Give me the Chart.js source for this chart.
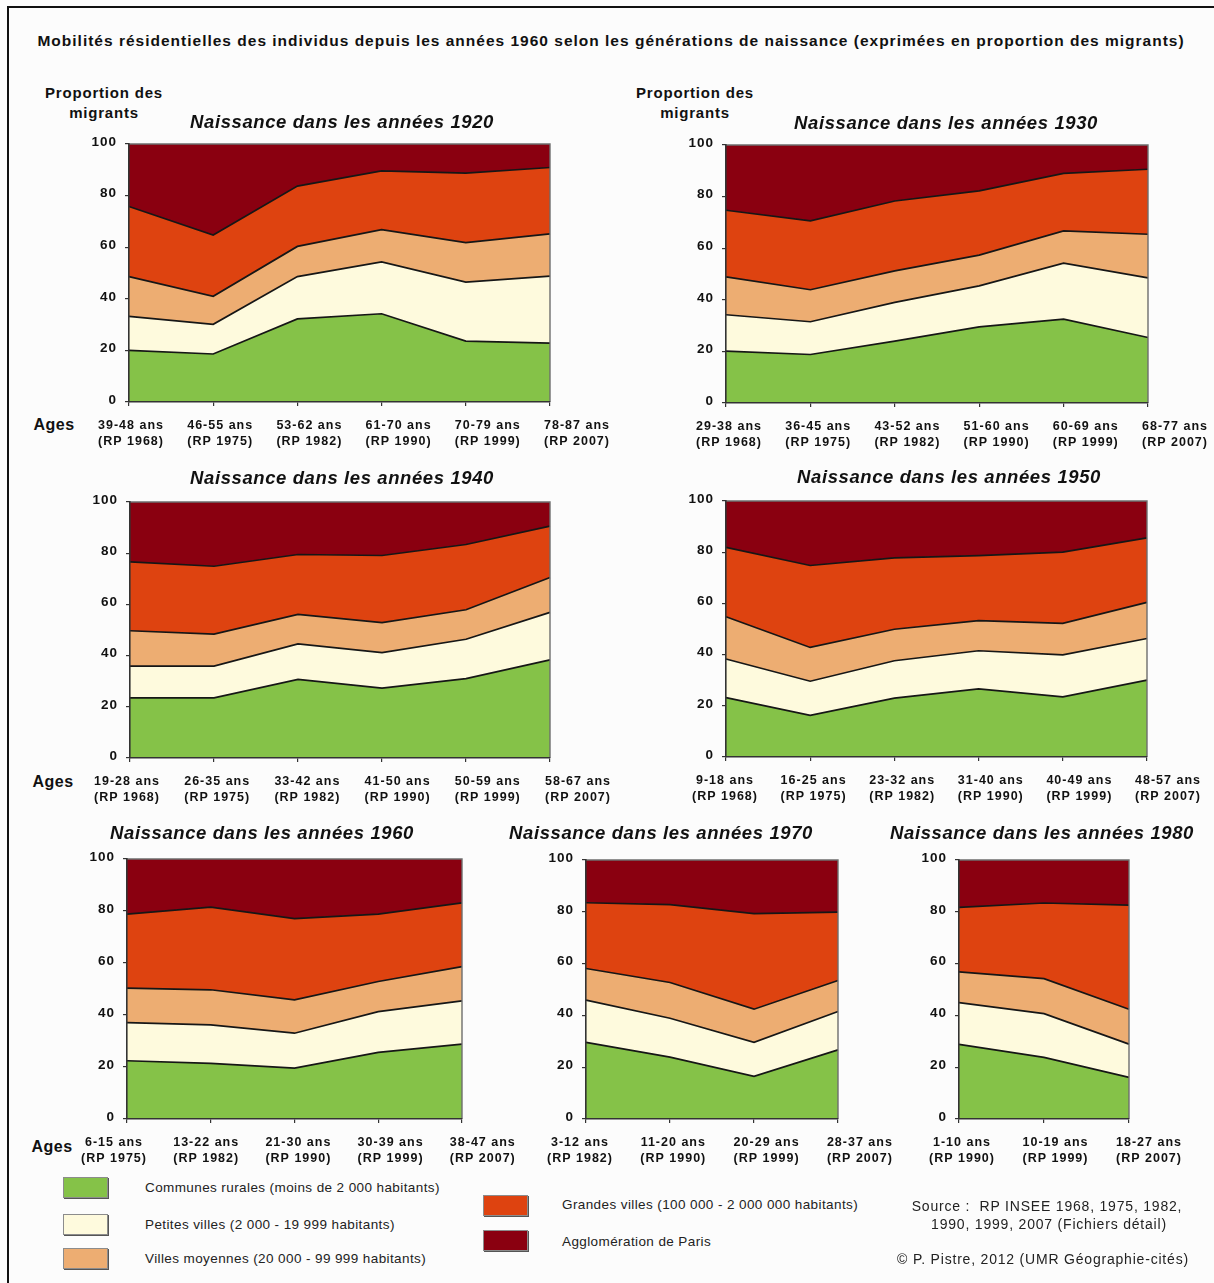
<!DOCTYPE html>
<html lang="fr">
<head>
<meta charset="utf-8">
<title>Mobilités résidentielles par génération</title>
<script src="https://cdn.jsdelivr.net/npm/chart.js@4.4.1/dist/chart.umd.min.js"></script>
<style>
  html, body { margin: 0; padding: 0; }
  body {
    width: 1214px; height: 1283px; overflow: hidden; position: relative;
    background: #fcfcfc; color: #111;
    font-family: "Liberation Sans", Arial, sans-serif;
  }
  /* only the top and left sides of the outer frame are inside the picture */
  .frame { position: absolute; left: 7px; top: 6px; width: 1300px; height: 1400px; border-top: 2px solid #111; border-left: 2px solid #111; }
  .t { position: absolute; white-space: pre; line-height: 1; }
  .sw { position: absolute; width: 43px; height: 19px; border: 1px solid #8c8c8c; box-shadow: 1px 1px 0 #555; }
  canvas { position: absolute; }
</style>
</head>
<body>
<div class="frame"></div>
<script>
// --- values (% of migrants living in each type of place) ---
const seriesNames = [
  'Communes rurales (moins de 2 000 habitants)',
  'Petites villes (2 000 - 19 999 habitants)',
  'Villes moyennes (20 000 - 99 999 habitants)',
  'Grandes villes (100 000 - 2 000 000 habitants)',
  'Agglomération de Paris',
];
const census = ['(RP 1968)', '(RP 1975)', '(RP 1982)', '(RP 1990)', '(RP 1999)', '(RP 2007)'];
const yTicks = [0, 20, 40, 60, 80, 100];

const ages1920 = ['39-48 ans', '46-55 ans', '53-62 ans', '61-70 ans', '70-79 ans', '78-87 ans'];
const rural1920 = [20.0, 18.6, 32.2, 34.2, 23.6, 22.8];
const petites1920 = [13.2, 11.5, 16.4, 20.1, 22.9, 26.0];
const moyennes1920 = [15.4, 10.9, 11.7, 12.5, 15.3, 16.4];
const grandes1920 = [27.2, 23.7, 23.4, 22.8, 26.9, 25.7];
const paris1920 = [24.2, 35.3, 16.3, 10.4, 11.3, 9.1];

const ages1930 = ['29-38 ans', '36-45 ans', '43-52 ans', '51-60 ans', '60-69 ans', '68-77 ans'];
const rural1930 = [20.1, 18.8, 24.0, 29.5, 32.5, 25.4];
const petites1930 = [14.1, 12.7, 15.0, 15.9, 21.7, 23.1];
const moyennes1930 = [14.7, 12.4, 12.2, 11.9, 12.5, 16.9];
const grandes1930 = [25.8, 26.7, 27.1, 24.9, 22.3, 25.2];
const paris1930 = [25.3, 29.4, 21.7, 17.8, 11.0, 9.4];

const ages1940 = ['19-28 ans', '26-35 ans', '33-42 ans', '41-50 ans', '50-59 ans', '58-67 ans'];
const rural1940 = [23.5, 23.5, 30.7, 27.3, 31.0, 38.3];
const petites1940 = [12.4, 12.4, 13.9, 13.9, 15.4, 18.6];
const moyennes1940 = [13.8, 12.5, 11.5, 11.7, 11.5, 13.6];
const grandes1940 = [26.9, 26.5, 23.4, 26.2, 25.5, 20.1];
const paris1940 = [23.4, 25.1, 20.5, 20.9, 16.6, 9.4];

const ages1950 = ['9-18 ans', '16-25 ans', '23-32 ans', '31-40 ans', '40-49 ans', '48-57 ans'];
const rural1950 = [23.2, 16.3, 23.0, 26.6, 23.5, 30.0];
const petites1950 = [15.1, 13.3, 14.6, 14.9, 16.4, 16.3];
const moyennes1950 = [16.5, 13.2, 12.3, 11.8, 12.3, 14.1];
const grandes1950 = [27.1, 32.0, 27.9, 25.4, 27.8, 25.2];
const paris1950 = [18.1, 25.2, 22.2, 21.3, 20.0, 14.4];

const ages1960 = ['6-15 ans', '13-22 ans', '21-30 ans', '30-39 ans', '38-47 ans'];
const rural1960 = [22.4, 21.4, 19.6, 25.6, 28.8];
const petites1960 = [14.7, 14.8, 13.4, 15.7, 16.6];
const moyennes1960 = [13.2, 13.5, 12.8, 11.6, 13.2];
const grandes1960 = [28.5, 31.8, 31.3, 25.9, 24.5];
const paris1960 = [21.2, 18.5, 22.9, 21.2, 16.9];

const ages1970 = ['3-12 ans', '11-20 ans', '20-29 ans', '28-37 ans'];
const rural1970 = [29.6, 23.9, 16.5, 26.7];
const petites1970 = [16.3, 15.0, 13.1, 14.8];
const moyennes1970 = [12.2, 13.8, 12.8, 12.0];
const grandes1970 = [25.4, 30.1, 36.9, 26.4];
const paris1970 = [16.5, 17.2, 20.7, 20.1];

const ages1980 = ['1-10 ans', '10-19 ans', '18-27 ans'];
const rural1980 = [28.8, 23.8, 16.1];
const petites1980 = [16.1, 16.9, 12.8];
const moyennes1980 = [11.9, 13.5, 13.5];
const grandes1980 = [24.9, 29.2, 40.2];
const paris1980 = [18.3, 16.6, 17.4];

// --- look ---
const fills = ['#85c248', '#fefadd', '#edad72', '#de4310', '#8a0010'];
const FONT = '"Liberation Sans", Arial, sans-serif';
Chart.defaults.font.family = FONT;
Chart.defaults.color = '#111';

// plot-area geometry of each panel, in page pixels
const panels = [
  { title: 'Naissance dans les années 1920', ages: ages1920, rp: census,
    series: [rural1920, petites1920, moyennes1920, grandes1920, paris1920],
    left: 129, top: 144, width: 421, height: 258, labelFirst: 131, labelStep: 89.2, tx: 342, ty: 122 },
  { title: 'Naissance dans les années 1930', ages: ages1930, rp: census,
    series: [rural1930, petites1930, moyennes1930, grandes1930, paris1930],
    left: 726, top: 145, width: 422, height: 258, labelFirst: 729, labelStep: 89.2, tx: 946, ty: 123 },
  { title: 'Naissance dans les années 1940', ages: ages1940, rp: census,
    series: [rural1940, petites1940, moyennes1940, grandes1940, paris1940],
    left: 130, top: 502, width: 420, height: 256, labelFirst: 127, labelStep: 90.2, tx: 342, ty: 478 },
  { title: 'Naissance dans les années 1950', ages: ages1950, rp: census,
    series: [rural1950, petites1950, moyennes1950, grandes1950, paris1950],
    left: 726, top: 501, width: 421, height: 256, labelFirst: 725, labelStep: 88.6, tx: 949, ty: 477 },
  { title: 'Naissance dans les années 1960', ages: ages1960, rp: census.slice(1),
    series: [rural1960, petites1960, moyennes1960, grandes1960, paris1960],
    left: 127, top: 859, width: 335, height: 260, labelFirst: 114, labelStep: 92.2, tx: 262, ty: 833 },
  { title: 'Naissance dans les années 1970', ages: ages1970, rp: census.slice(2),
    series: [rural1970, petites1970, moyennes1970, grandes1970, paris1970],
    left: 586, top: 860, width: 252, height: 259, labelFirst: 580, labelStep: 93.3, tx: 661, ty: 833 },
  { title: 'Naissance dans les années 1980', ages: ages1980, rp: census.slice(3),
    series: [rural1980, petites1980, moyennes1980, grandes1980, paris1980],
    left: 959, top: 860, width: 170, height: 259, labelFirst: 962, labelStep: 93.5, tx: 1042, ty: 833 },
];

// grey frame on top / right of each plot, plus a bit of letter spacing like the original
const plotFrame = {
  id: 'plotFrame',
  beforeLayout(chart) { chart.ctx.letterSpacing = '1px'; },
  beforeDraw(chart) { chart.ctx.letterSpacing = '1px'; },
  afterDatasetsDraw(chart) {
    const { ctx, chartArea: a } = chart;
    ctx.save();
    ctx.strokeStyle = '#6e6e6e';
    ctx.lineWidth = 1.4;
    ctx.beginPath();
    ctx.moveTo(a.left, a.top);
    ctx.lineTo(a.right, a.top);
    ctx.lineTo(a.right, a.bottom);
    ctx.stroke();
    ctx.restore();
  },
};

function put(text, x, y, css, anchor) {
  const d = document.createElement('div');
  d.className = 't';
  d.textContent = text;
  d.style.cssText = `left:${x}px;top:${y}px;transform:translate(${anchor === 'left' ? '0' : '-50%'},-50%);${css || ''}`;
  document.body.appendChild(d);
  return d;
}

function buildPanel(p) {
  const padL = 20, padR = 80, padT = 22, yW = 50, xH = 4, x2H = 50;
  const cw = yW + padL + p.width + padR;
  const ch = padT + p.height + xH + x2H;
  const canvas = document.createElement('canvas');
  canvas.width = cw;
  canvas.height = ch;
  canvas.style.left = (p.left - yW - padL) + 'px';
  canvas.style.top = (p.top - padT) + 'px';
  canvas.style.width = cw + 'px';
  canvas.style.height = ch + 'px';
  document.body.appendChild(canvas);

  // label axis: Excel spaced the age labels a little wider than the data points
  const lmin = (p.left - p.labelFirst) / p.labelStep;
  const lmax = lmin + p.width / p.labelStep;

  new Chart(canvas, {
    type: 'line',
    data: {
      labels: p.ages,
      datasets: p.series.map((vals, i) => ({
        label: seriesNames[i],
        data: vals,
        backgroundColor: fills[i],
        borderColor: i === 4 ? 'rgba(0,0,0,0)' : '#161616',
        borderWidth: 1.7,
        fill: i === 0 ? 'origin' : '-1',
        pointRadius: 0,
        tension: 0,
        xAxisID: 'x',
        yAxisID: 'y',
      })),
    },
    options: {
      responsive: false,
      animation: false,
      devicePixelRatio: 1,
      events: [],
      layout: { padding: { left: padL, right: padR, top: padT, bottom: 0 } },
      plugins: { legend: { display: false }, tooltip: { enabled: false } },
      scales: {
        x: {
          type: 'category',
          offset: false,
          ticks: { display: false },
          grid: { drawOnChartArea: false, tickLength: 4, color: '#333', lineWidth: 1.2, z: 1 },
          border: { color: '#333', width: 1.6, z: 1 },
          afterFit: s => { s.height = xH; },
        },
        x2: {
          type: 'linear',
          position: 'bottom',
          min: lmin,
          max: lmax,
          afterBuildTicks: s => { s.ticks = p.ages.map((_, i) => ({ value: i })); },
          ticks: {
            autoSkip: false, maxRotation: 0, minRotation: 0, padding: 12, color: '#111',
            font: { size: 12.5, weight: 'bold', lineHeight: 1.28 },
            callback: (v, i) => [p.ages[i], p.rp[i]],
          },
          grid: { display: false, drawTicks: false },
          border: { display: false },
          afterFit: s => { s.height = x2H; },
        },
        y: {
          stacked: true,
          min: 0,
          max: 100,
          afterBuildTicks: s => { s.ticks = yTicks.map(v => ({ value: v })); },
          ticks: { padding: 8, labelOffset: -2, color: '#111', font: { size: 13.5, weight: 'bold' } },
          grid: { drawOnChartArea: false, tickLength: 4, color: '#333', lineWidth: 1.2, z: 1 },
          border: { color: '#333', width: 1.6, z: 1 },
          afterFit: s => { s.width = yW; },
        },
      },
    },
    plugins: [plotFrame],
  });

  put(p.title, p.tx, p.ty, 'font-size:18.5px;font-weight:bold;font-style:italic;letter-spacing:0.6px;');
}

// --- page texts ---
put('Mobilités résidentielles des individus depuis les années 1960 selon les générations de naissance (exprimées en proportion des migrants)',
  611, 41, 'font-size:15.5px;font-weight:bold;letter-spacing:1px;');

[104, 695].forEach(cx => {
  put('Proportion des', cx, 92, 'font-size:15px;font-weight:bold;letter-spacing:0.8px;');
  put('migrants', cx, 112, 'font-size:15px;font-weight:bold;letter-spacing:0.8px;');
});
[[54, 425], [53, 782], [52, 1147]].forEach(([x, y]) => put('Ages', x, y, 'font-size:16px;font-weight:bold;letter-spacing:0.5px;'));

panels.forEach(buildPanel);

// --- legend ---
const legendSpots = [
  { sx: 63, sy: 1177, tx: 145, ty: 1188 },
  { sx: 63, sy: 1214, tx: 145, ty: 1225 },
  { sx: 63, sy: 1248, tx: 145, ty: 1259 },
  { sx: 483, sy: 1195, tx: 562, ty: 1205 },
  { sx: 483, sy: 1230, tx: 562, ty: 1242 },
];
seriesNames.forEach((name, i) => {
  const s = legendSpots[i];
  const sw = document.createElement('div');
  sw.className = 'sw';
  sw.style.cssText = `left:${s.sx}px;top:${s.sy}px;background:${fills[i]};`;
  document.body.appendChild(sw);
  put(name, s.tx, s.ty, 'font-size:13.5px;color:#222;letter-spacing:0.4px;', 'left');
});

put('Source :  RP INSEE 1968, 1975, 1982,', 1047, 1206, 'font-size:14px;color:#222;letter-spacing:0.8px;');
put('1990, 1999, 2007 (Fichiers détail)', 1049, 1224, 'font-size:14px;color:#222;letter-spacing:0.8px;');
put('© P. Pistre, 2012 (UMR Géographie-cités)', 1043, 1259, 'font-size:14px;color:#222;letter-spacing:0.8px;');
</script>
</body>
</html>
